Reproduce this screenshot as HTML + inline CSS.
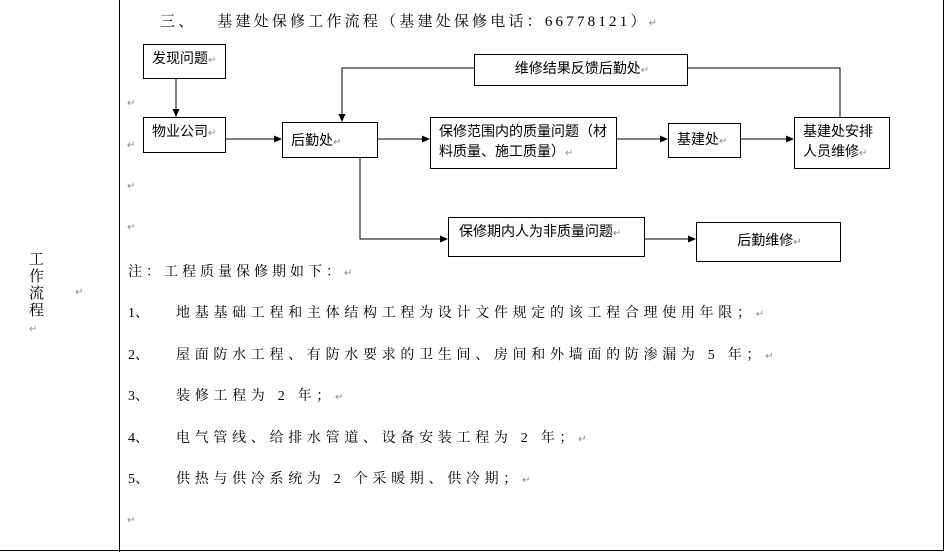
<!DOCTYPE html>
<html><head><meta charset="utf-8"><style>
body{margin:0;background:#fff;width:945px;height:552px;overflow:hidden;position:relative;font-family:"Liberation Serif","Noto Serif CJK SC",serif;color:#000}
.t{position:absolute;white-space:nowrap;font-size:14px}
.b{position:absolute;border:1px solid #000;box-sizing:border-box;font-family:"Liberation Sans","Noto Sans CJK SC",sans-serif;font-size:14px;line-height:20px;padding:3px 6px 3px 8px;background:#fff}
.r{color:#888;font-size:10px;letter-spacing:0}
.l{letter-spacing:4.7px}
</style></head><body>
<svg width="945" height="552" style="position:absolute;left:0;top:0">
<defs><marker id="a" markerWidth="8" markerHeight="8" refX="7" refY="4" orient="auto" markerUnits="userSpaceOnUse"><path d="M0,0.5 L8,4 L0,7.5z" fill="#000"/></marker></defs>
<line x1="119.5" y1="0" x2="119.5" y2="552" stroke="#000"/>
<line x1="943.5" y1="0" x2="943.5" y2="551" stroke="#000"/>
<line x1="0" y1="550.5" x2="944" y2="550.5" stroke="#000"/>
<g stroke="#000" fill="none">
<line x1="176" y1="79" x2="176" y2="116" marker-end="url(#a)"/>
<line x1="226" y1="139" x2="281" y2="139" marker-end="url(#a)"/>
<line x1="378" y1="139" x2="429" y2="139" marker-end="url(#a)"/>
<line x1="617" y1="139" x2="667" y2="139" marker-end="url(#a)"/>
<line x1="741" y1="139" x2="793" y2="139" marker-end="url(#a)"/>
<polyline points="688,68 840,68 840,117"/>
<polyline points="474,68 342,68 342,121" marker-end="url(#a)"/>
<polyline points="360,158 360,239 447,239" marker-end="url(#a)"/>
<line x1="645" y1="239" x2="695" y2="239" marker-end="url(#a)"/>
</g>
</svg>
<div class="t" style="left:160px;top:10px;font-size:15px;letter-spacing:3.2px">三、&nbsp;&nbsp;&nbsp;基建处保修工作流程（基建处保修电话：66778121）<span class="r">↵</span></div>
<div class="b" style="left:143px;top:44px;width:83px;height:35px">发现问题<span class="r">↵</span></div>
<div class="b" style="left:143px;top:117px;width:83px;height:36px">物业公司<span class="r">↵</span></div>
<div class="b" style="left:282px;top:122px;width:96px;height:36px;padding-top:7px">后勤处<span class="r">↵</span></div>
<div class="b" style="left:430px;top:117px;width:187px;height:52px">保修范围内的质量问题（材料质量、施工质量）<span class="r">↵</span></div>
<div class="b" style="left:668px;top:123px;width:73px;height:35px;padding-top:5px">基建处<span class="r">↵</span></div>
<div class="b" style="left:794px;top:117px;width:96px;height:52px">基建处安排人员维修<span class="r">↵</span></div>
<div class="b" style="left:474px;top:54px;width:214px;height:32px;text-align:center">维修结果反馈后勤处<span class="r">↵</span></div>
<div class="b" style="left:448px;top:217px;width:197px;height:40px;padding-left:10px">保修期内人为非质量问题<span class="r">↵</span></div>
<div class="b" style="left:696px;top:222px;width:145px;height:40px;text-align:center;padding-top:7px">后勤维修<span class="r">↵</span></div>
<div class="t r" style="left:127px;top:98px">↵</div>
<div class="t r" style="left:127px;top:140px">↵</div>
<div class="t r" style="left:127px;top:181px">↵</div>
<div class="t r" style="left:127px;top:222px">↵</div>
<div class="t" style="left:29px;top:252px;width:20px;line-height:17px;font-size:15px;white-space:normal">工作流程<br><span class="r">↵</span></div>
<div class="t r" style="left:75px;top:287px">↵</div>
<div class="t" style="left:128px;top:261px;letter-spacing:4px">注：工程质量保修期如下：<span class="r">↵</span></div>
<div class="t" style="left:128px;top:302px">1、</div>
<div class="t l" style="left:176px;top:302px">地基基础工程和主体结构工程为设计文件规定的该工程合理使用年限；<span class="r">↵</span></div>
<div class="t" style="left:128px;top:344px">2、</div>
<div class="t l" style="left:176px;top:344px">屋面防水工程、有防水要求的卫生间、房间和外墙面的防渗漏为 5 年；<span class="r">↵</span></div>
<div class="t" style="left:128px;top:385px">3、</div>
<div class="t l" style="left:176px;top:385px">装修工程为 2 年；<span class="r">↵</span></div>
<div class="t" style="left:128px;top:427px">4、</div>
<div class="t l" style="left:176px;top:427px">电气管线、给排水管道、设备安装工程为 2 年；<span class="r">↵</span></div>
<div class="t" style="left:128px;top:468px">5、</div>
<div class="t l" style="left:176px;top:468px">供热与供冷系统为 2 个采暖期、供冷期；<span class="r">↵</span></div>
<div class="t r" style="left:127px;top:515px">↵</div>
</body></html>
